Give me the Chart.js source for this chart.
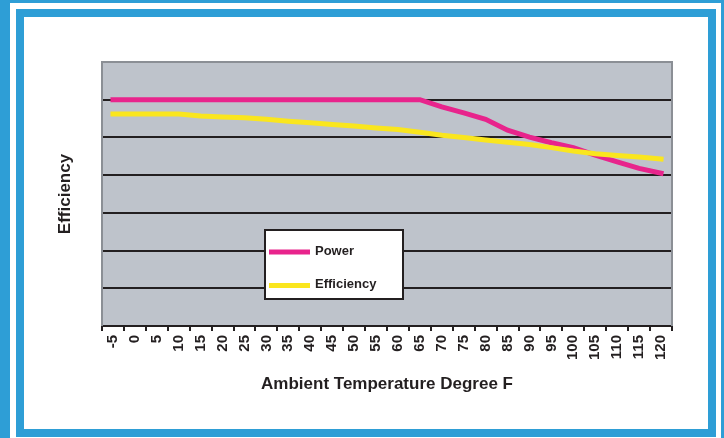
<!DOCTYPE html>
<html>
<head>
<meta charset="utf-8">
<script src="https://cdn.jsdelivr.net/npm/chart.js@4/dist/chart.umd.min.js"></script>
<style>
  html, body { margin: 0; padding: 0; }
  body { width: 724px; height: 438px; background: #2e9ed6; position: relative; overflow: hidden; }
  .gap { position: absolute; left: 10px; top: 3px; width: 711px; height: 445px; background: #fff; }
  .frame { position: absolute; left: 16px; top: 9px; width: 700px; height: 428px; box-sizing: border-box; border: 8px solid #2e9ed6; background: #fff; }
  #chart { position: absolute; left: 24px; top: 17px; }
</style>
</head>
<body>
<div class="gap"></div>
<div class="frame"></div>
<canvas id="chart" width="684" height="412"></canvas>
<script>
// Temperature categories (degrees F)
const temps = ['-5', '0', '5', '10', '15', '20', '25', '30', '35', '40', '45', '50', '55', '60',
               '65', '70', '75', '80', '85', '90', '95', '100', '105', '110', '115', '120'];

// Values (unlabelled axis, gridlines at 1..6)
const powerValues = [6.0, 6.0, 6.0, 6.0, 6.0, 6.0, 6.0, 6.0, 6.0, 6.0, 6.0, 6.0, 6.0, 6.0,
                     6.0, 5.81, 5.65, 5.48, 5.19, 5.01, 4.86, 4.73, 4.53, 4.35, 4.18, 4.05];
const efficiencyValues = [5.62, 5.62, 5.62, 5.62, 5.57, 5.54, 5.52, 5.48, 5.43, 5.39, 5.34, 5.30, 5.25, 5.21,
                          5.14, 5.06, 5.00, 4.93, 4.87, 4.81, 4.73, 4.64, 4.57, 4.52, 4.48, 4.43];

const seriesNames = ['Power', 'Efficiency'];
const seriesColors = ['#e8248c', '#fae61e'];

const FONT = '"Liberation Sans", Arial, sans-serif';
const INK = '#231f20';

// grey plot area with its frame, and the boxed legend inside it
const plotDecor = {
    id: 'plotDecor',
    beforeDraw(chart) {
        const a = chart.chartArea;
        const ctx = chart.ctx;
        ctx.save();
        ctx.fillStyle = '#bec3cb';
        ctx.fillRect(a.left, a.top, a.right - a.left, a.bottom - a.top);
        ctx.restore();
    },
    beforeDatasetsDraw(chart) {
        const a = chart.chartArea;
        const ctx = chart.ctx;
        ctx.save();
        ctx.strokeStyle = '#8b8f95';
        ctx.lineWidth = 2;
        ctx.beginPath();
        ctx.moveTo(a.left, a.bottom);
        ctx.lineTo(a.left, a.top);
        ctx.lineTo(a.right, a.top);
        ctx.lineTo(a.right, a.bottom);
        ctx.stroke();
        ctx.restore();
    },
    afterDraw(chart) {
        const ctx = chart.ctx;
        const box = { x: 241, y: 213, w: 138, h: 69 };
        ctx.save();
        ctx.fillStyle = '#ffffff';
        ctx.fillRect(box.x, box.y, box.w, box.h);
        ctx.strokeStyle = INK;
        ctx.lineWidth = 2;
        ctx.strokeRect(box.x, box.y, box.w, box.h);
        ctx.font = 'bold 13px ' + FONT;
        ctx.textBaseline = 'middle';
        chart.data.datasets.forEach(function (ds, i) {
            const y = box.y + 21 + i * 33.5;
            ctx.strokeStyle = ds.borderColor;
            ctx.lineWidth = 5;
            ctx.beginPath();
            ctx.moveTo(box.x + 4, y + 1);
            ctx.lineTo(box.x + 45, y + 1);
            ctx.stroke();
            ctx.fillStyle = INK;
            ctx.fillText(ds.label, box.x + 50, y);
        });
        ctx.restore();
    }
};

new Chart(document.getElementById('chart'), {
    type: 'line',
    data: {
        labels: temps,
        datasets: [
            {
                label: seriesNames[0],
                data: powerValues,
                borderColor: seriesColors[0],
                backgroundColor: seriesColors[0],
                borderWidth: 5,
                borderCapStyle: 'square',
                pointRadius: 0,
                tension: 0,
                order: 1
            },
            {
                label: seriesNames[1],
                data: efficiencyValues,
                borderColor: seriesColors[1],
                backgroundColor: seriesColors[1],
                borderWidth: 5,
                borderCapStyle: 'square',
                pointRadius: 0,
                tension: 0,
                order: 0
            }
        ]
    },
    options: {
        responsive: false,
        animation: false,
        layout: { padding: { top: 45, right: 36, left: 0, bottom: 0 } },
        plugins: {
            legend: { display: false },
            tooltip: { enabled: false }
        },
        scales: {
            x: {
                type: 'category',
                offset: true,
                afterFit(scale) { scale.height = 103; },
                grid: {
                    offset: true,
                    drawOnChartArea: false,
                    drawTicks: true,
                    tickLength: 5,
                    color: INK,
                    lineWidth: 2
                },
                border: { display: true, color: INK, width: 2 },
                ticks: {
                    autoSkip: false,
                    minRotation: 90,
                    maxRotation: 90,
                    padding: 4,
                    color: INK,
                    font: { family: FONT, size: 15, weight: 'bold' }
                },
                title: {
                    display: true,
                    text: 'Ambient Temperature Degree F',
                    color: INK,
                    font: { family: FONT, size: 17, weight: 'bold' },
                    padding: { top: 4, bottom: 34 }
                }
            },
            y: {
                min: 0,
                max: 7,
                afterFit(scale) { scale.width = 78; },
                ticks: { display: false, stepSize: 1 },
                grid: {
                    drawTicks: false,
                    lineWidth: 2,
                    color: function (c) {
                        const v = c.tick ? c.tick.value : 0;
                        return (v >= 1 && v <= 6) ? INK : 'rgba(0,0,0,0)';
                    }
                },
                border: { display: false },
                title: {
                    display: true,
                    text: 'Efficiency',
                    color: INK,
                    font: { family: FONT, size: 17, weight: 'bold' },
                    padding: { top: 31, bottom: 0 }
                }
            }
        }
    },
    plugins: [plotDecor]
});
</script>
</body>
</html>
